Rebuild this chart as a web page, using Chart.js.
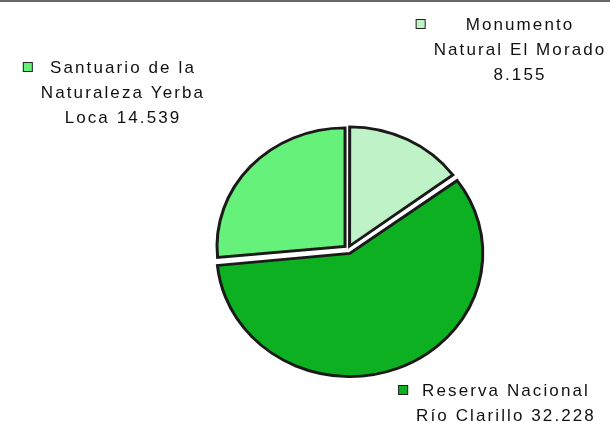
<!DOCTYPE html>
<html>
<head>
<meta charset="utf-8">
<script src="https://cdn.jsdelivr.net/npm/chart.js@4.4.1/dist/chart.umd.min.js"></script>
<style>
    html, body { margin: 0; padding: 0; background: #ffffff; }
    #wrap { width: 610px; height: 422px; position: relative; }
</style>
</head>
<body>
<div id="wrap"><canvas id="areasChart"></canvas></div>
<script>
// Protected areas, surface per unit
const areaNames = ['Monumento Natural El Morado', 'Reserva Nacional Río Clarillo', 'Santuario de la Naturaleza Yerba Loca'];
const areaValues = [8.155, 32.228, 14.539];
const areaColors = ['#c0f2c8', '#0cb021', '#66f27a'];
// Chart.js divides arc offset internally, so these are larger than the visible gap
const sliceOffsets = [14, 20, 16];

// label block: centre x, first line centre y, wrap width
const labelLayout = [
    { x: 520, y: 25, wrap: 178 },
    { x: 506, y: 391, wrap: 188 },
    { x: 123, y: 68, wrap: 172 }
];

const LABEL_FONT = '17px "Liberation Sans", Arial, sans-serif';
const LINE_H = 25;

function wrapText(ctx, text, maxW) {
    const words = text.split(' ');
    const lines = [];
    let cur = '';
    words.forEach(w => {
        const test = cur ? cur + ' ' + w : w;
        if (cur && ctx.measureText(test).width > maxW) {
            lines.push(cur);
            cur = w;
        } else {
            cur = test;
        }
    });
    if (cur) lines.push(cur);
    return lines;
}

// flatten the pie a little, the way the old spreadsheet drew it
const squashPlugin = {
    id: 'squash',
    beforeDatasetsDraw(chart) {
        const arc = chart.getDatasetMeta(0).data[0];
        const ctx = chart.ctx;
        ctx.save();
        ctx.translate(arc.x, arc.y);
        ctx.scale(1, 0.927);
        ctx.translate(-arc.x, -arc.y);
    },
    afterDatasetsDraw(chart) {
        chart.ctx.restore();
    }
};

const frameLine = {
    id: 'frameLine',
    beforeDraw(chart) {
        const ctx = chart.ctx;
        ctx.save();
        ctx.fillStyle = '#ffffff';
        ctx.fillRect(0, 0, chart.width, chart.height);
        ctx.fillStyle = '#686868';
        ctx.fillRect(0, 0, chart.width, 2);
        ctx.restore();
    }
};

const sliceLabels = {
    id: 'sliceLabels',
    afterDraw(chart) {
        const ctx = chart.ctx;
        ctx.save();
        ctx.font = LABEL_FONT;
        ctx.letterSpacing = '2.1px';
        ctx.textBaseline = 'middle';
        ctx.textAlign = 'center';
        areaNames.forEach((name, i) => {
            const lay = labelLayout[i];
            const text = name + ' ' + areaValues[i].toFixed(3);
            const lines = wrapText(ctx, text, lay.wrap);
            let blockW = 0;
            lines.forEach(l => { blockW = Math.max(blockW, ctx.measureText(l).width); });
            ctx.fillStyle = '#111111';
            lines.forEach((l, j) => {
                ctx.fillText(l, lay.x, lay.y + j * LINE_H);
            });
            // legend key
            const kx = lay.x - blockW / 2 - 8 - 10;
            const ky = lay.y - 6;
            ctx.fillStyle = areaColors[i];
            ctx.fillRect(kx, ky, 10, 10);
            ctx.strokeStyle = '#222222';
            ctx.lineWidth = 1;
            ctx.strokeRect(kx + 0.5, ky + 0.5, 9, 9);
        });
        ctx.restore();
    }
};

new Chart(document.getElementById('areasChart'), {
    type: 'pie',
    data: {
        labels: areaNames,
        datasets: [{
            data: areaValues,
            backgroundColor: areaColors,
            borderColor: '#1a1a1a',
            borderWidth: 3,
            borderJoinStyle: 'miter',
            offset: sliceOffsets
        }]
    },
    options: {
        responsive: true,
        maintainAspectRatio: false,
        animation: false,
        radius: 128,
        layout: {
            padding: { left: 86, right: 0, top: 76, bottom: 0 }
        },
        plugins: {
            legend: { display: false },
            tooltip: { enabled: false }
        }
    },
    plugins: [frameLine, squashPlugin, sliceLabels]
});
</script>
</body>
</html>
